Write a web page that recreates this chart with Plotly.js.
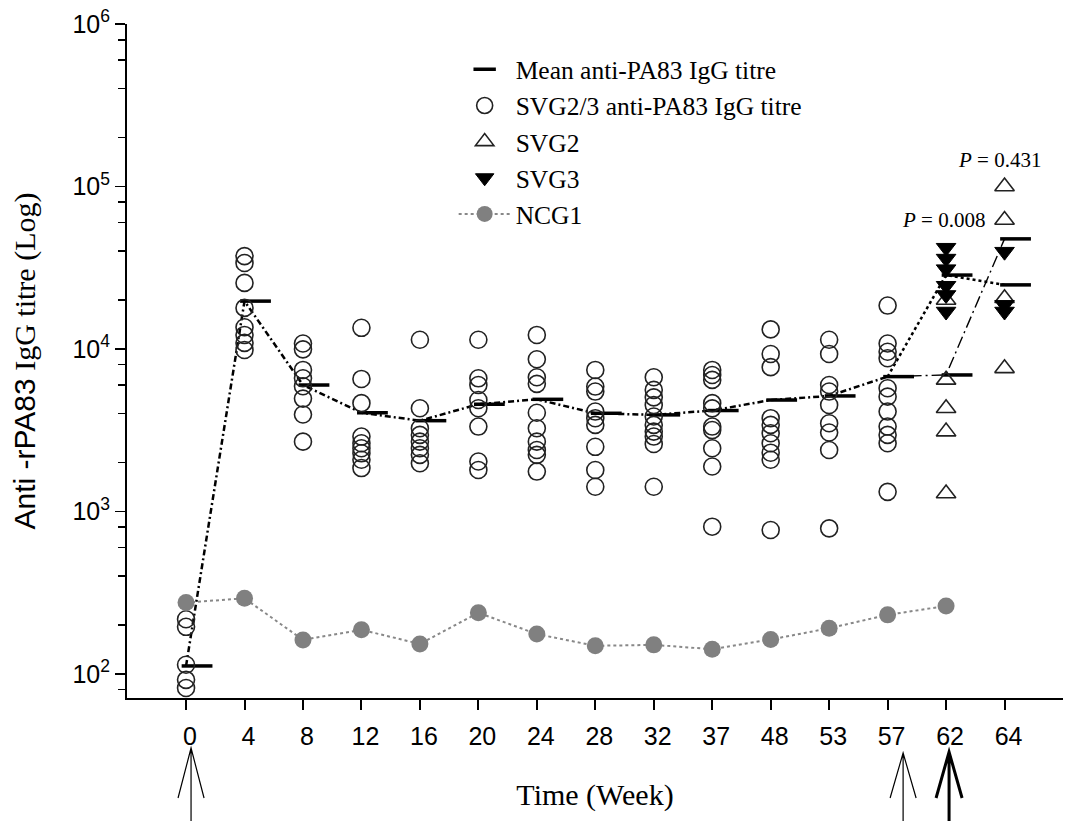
<!DOCTYPE html>
<html><head><meta charset="utf-8">
<script src="https://cdn.plot.ly/plotly-3.0.1.min.js"></script>
<style>html,body{margin:0;padding:0;background:#fff}#chart{width:1068px;height:821px}</style>
</head><body><div id="chart"></div>
<script>
// ---------- data ----------
const weekLabels = ['0','4','8','12','16','20','24','28','32','37','48','53','57','62','64'];

// SVG2/3 individual anti-PA83 IgG titres, weeks 0..57
const svg23W0  = [217, 195, 114, 92, 82];
const svg23W4  = [37300, 33800, 25500, 17900, 13600, 12200, 10900, 9860];
const svg23W8  = [10800, 9950, 7430, 6600, 5900, 4950, 3950, 2690];
const svg23W12 = [13500, 6540, 4640, 2890, 2630, 2450, 2280, 2080, 1850];
const svg23W16 = [11400, 4320, 3250, 2960, 2690, 2450, 2230, 1980];
const svg23W20 = [11400, 6600, 6000, 4850, 4320, 3330, 2030, 1800];
const svg23W24 = [12200, 8650, 6700, 6100, 4050, 3250, 2690, 2390, 2230, 1760];
const svg23W28 = [7430, 5870, 5470, 4120, 3750, 3410, 2500, 1800, 1420];
const svg23W32 = [6700, 5600, 5040, 4520, 3840, 3410, 3100, 2890, 2600, 1420];
const svg23W37 = [7430, 6920, 6450, 4640, 4310, 3330, 3170, 2450, 1890, 806];
const svg23W48 = [13200, 9310, 7730, 3750, 3410, 3030, 2630, 2300, 2080, 769];
const svg23W53 = [11400, 9310, 6000, 5470, 4520, 3490, 3060, 2390, 787];
const svg23W57 = [18500, 10800, 9620, 8770, 5730, 5090, 4120, 3330, 2960, 2630, 1320];
const svg23ByWeek = [svg23W0, svg23W4, svg23W8, svg23W12, svg23W16, svg23W20, svg23W24,
                     svg23W28, svg23W32, svg23W37, svg23W48, svg23W53, svg23W57];

// SVG2 (open triangles) and SVG3 (filled triangles) at weeks 62 and 64
const svg2W62 = [20000, 6450, 4320, 3100, 1290];
const svg2W64 = [100000, 62200, 20500, 7600];
const svg3W62 = [42000, 36000, 31000, 24500, 21500, 17000];
const svg3W64 = [39700, 18700, 17000];

// Mean titres
const meanTitre = [112, 19700, 6000, 4050, 3620, 4570, 4900, 4020, 3930, 4180, 4850, 5140, 6760]; // weeks 0..57
const svg2Mean = [6920, 47600];   // weeks 62, 64
const svg3Mean = [28500, 24800];  // weeks 62, 64

// NCG1 control group, weeks 0..62
const ncg1Titre = [275, 292, 162, 187, 153, 238, 176, 149, 151, 142, 163, 191, 231, 262];

// ---------- build ----------
const idx = weekLabels.map((_, i) => i);
const X_RANGE = [-1.01, 15.0];
const PLOT_W = 936;
const pxPerUnit = PLOT_W / (X_RANGE[1] - X_RANGE[0]);
const barShift = 11 / pxPerUnit;

function flatten(groups, startIdx) {
  const xs = [], ys = [];
  groups.forEach((g, k) => g.forEach(v => { xs.push(idx[startIdx + k]); ys.push(v); }));
  return {xs, ys};
}
const c = flatten(svg23ByWeek, 0);
const t2 = flatten([svg2W62, svg2W64], 13);
const t3 = flatten([svg3W62, svg3W64], 13);

const meanIdx = idx.slice(0, meanTitre.length);
const barX = meanIdx.concat([13, 13, 14, 14]).map(v => v + barShift);
const barY = meanTitre.concat([svg2Mean[0], svg3Mean[0], svg2Mean[1], svg3Mean[1]]);

const traces = [
  { // mean line main
    x: meanIdx, y: meanTitre, mode: 'lines', showlegend: false, hoverinfo: 'skip',
    line: {color: '#000', width: 2.5, dash: '6px,3px,2px,3px'}
  },
  { // SVG3 branch
    x: [12, 13, 14], y: [meanTitre[12], svg3Mean[0], svg3Mean[1]], mode: 'lines', showlegend: false,
    line: {color: '#000', width: 2.5, dash: 'dot'}
  },
  { // SVG2 branch
    x: [12, 13, 14], y: [meanTitre[12], svg2Mean[0], svg2Mean[1]], mode: 'lines', showlegend: false,
    line: {color: '#000', width: 1.4, dash: '12px,4px,2px,4px'}
  },
  {
    name: 'Mean anti-PA83 IgG titre', x: barX, y: barY, mode: 'markers',
    marker: {symbol: 'line-ew-open', size: 22, color: '#000', line: {color: '#000', width: 3.5}}
  },
  {
    name: 'SVG2/3 anti-PA83 IgG titre', x: c.xs, y: c.ys, mode: 'markers',
    marker: {symbol: 'circle-open', size: 17, color: '#222', line: {color: '#222', width: 1.6}}
  },
  {
    name: 'SVG2', x: t2.xs, y: t2.ys, mode: 'markers',
    marker: {symbol: 'triangle-up-open', size: 17, color: '#222', line: {color: '#222', width: 1.6}}
  },
  {
    name: 'SVG3', x: t3.xs, y: t3.ys, mode: 'markers',
    marker: {symbol: 'triangle-down', size: 17, color: '#000', line: {color: '#000', width: 1}}
  },
  {
    name: 'NCG1', x: idx.slice(0, ncg1Titre.length), y: ncg1Titre, mode: 'lines+markers',
    line: {color: '#888', width: 2, dash: 'dot'},
    marker: {symbol: 'circle', size: 17, color: '#808080'}
  }
];

// arrows below x axis (pixel offsets relative to tick position / axis line)
function arrowPath(dx, wing, tip, base, bottom) {
  return `M ${dx},${-tip} L ${dx},${-bottom} M ${dx - wing},${-base} L ${dx},${-tip} L ${dx + wing},${-base}`;
}
const shapes = [
  {xanchor: 0, dx: 5, tip: 50, w: 1.2},
  {xanchor: 12, dx: 15.5, tip: 55, w: 1.2},
  {xanchor: 13, dx: 3, tip: 54, w: 3}
].map(a => ({
  type: 'path', xref: 'x', yref: 'paper', xsizemode: 'pixel', ysizemode: 'pixel',
  xanchor: a.xanchor, yanchor: 0,
  path: arrowPath(a.dx, 13, a.tip, 100, 130),
  line: {color: '#000', width: a.w}
}));

const serif = 'Liberation Serif, Times New Roman, serif';
const sans = 'Liberation Sans, Arial, sans-serif';

const yTicks = [1e2, 1e3, 1e4, 1e5, 1e6];
const yTickText = ['10<sup>2</sup>', '10<sup>3</sup>', '10<sup>4</sup>', '10<sup>5</sup>', '10<sup>6</sup>'];
const yMinor = [];
[10, 100, 1000, 10000, 100000].forEach(d => [2, 4, 6, 8].forEach(m => yMinor.push(m * d)));

const layout = {
  width: 1068, height: 821,
  margin: {l: 127, r: 5, t: 24, b: 123},
  paper_bgcolor: '#fff', plot_bgcolor: '#fff',
  showlegend: true,
  legend: {
    x: 0.349, y: 0.967, xanchor: 'left', yanchor: 'top',
    font: {family: serif, size: 25.5, color: '#000'},
    bgcolor: 'rgba(0,0,0,0)', itemwidth: 52, tracegroupgap: 0
  },
  xaxis: {
    range: X_RANGE, tickmode: 'array', tickvals: idx, ticktext: weekLabels,
    showline: true, linecolor: '#000', linewidth: 2, mirror: false,
    ticks: 'outside', ticklen: 10, tickwidth: 2, tickcolor: '#000',
    showgrid: false, zeroline: false, ticklabelshift: 4, ticklabelstandoff: 5,
    tickfont: {family: sans, size: 25, color: '#000'},
    title: {text: 'Time (Week)', font: {family: serif, size: 30, color: '#000'}, standoff: 35}
  },
  yaxis: {
    type: 'log', range: [1.852, 6],
    tickmode: 'array', tickvals: yTicks, ticktext: yTickText,
    showline: true, linecolor: '#000', linewidth: 2,
    ticks: 'outside', ticklen: 10, tickwidth: 1.8, tickcolor: '#000',
    minor: {tickvals: yMinor, ticks: 'outside', ticklen: 7, tickwidth: 1.5, tickcolor: '#000', showgrid: false},
    showgrid: false, zeroline: false,
    tickfont: {family: sans, size: 25, color: '#000'},
    title: {text: '<span style="font-family:Liberation Sans">Anti -rPA83</span> IgG titre (Log)',
            font: {family: serif, size: 30, color: '#000'}, standoff: 28}
  },
  shapes: shapes,
  annotations: [
    {x: 12.95, y: 4.794, xref: 'x', yref: 'y', text: '<i>P</i> = 0.008', showarrow: false,
     font: {family: serif, size: 21, color: '#000'}},
    {x: 13.92, y: 5.163, xref: 'x', yref: 'y', text: '<i>P</i> = 0.431', showarrow: false,
     font: {family: serif, size: 21, color: '#000'}}
  ]
};

Plotly.newPlot('chart', traces, layout, {displayModeBar: false, staticPlot: true});
</script>
</body></html>
